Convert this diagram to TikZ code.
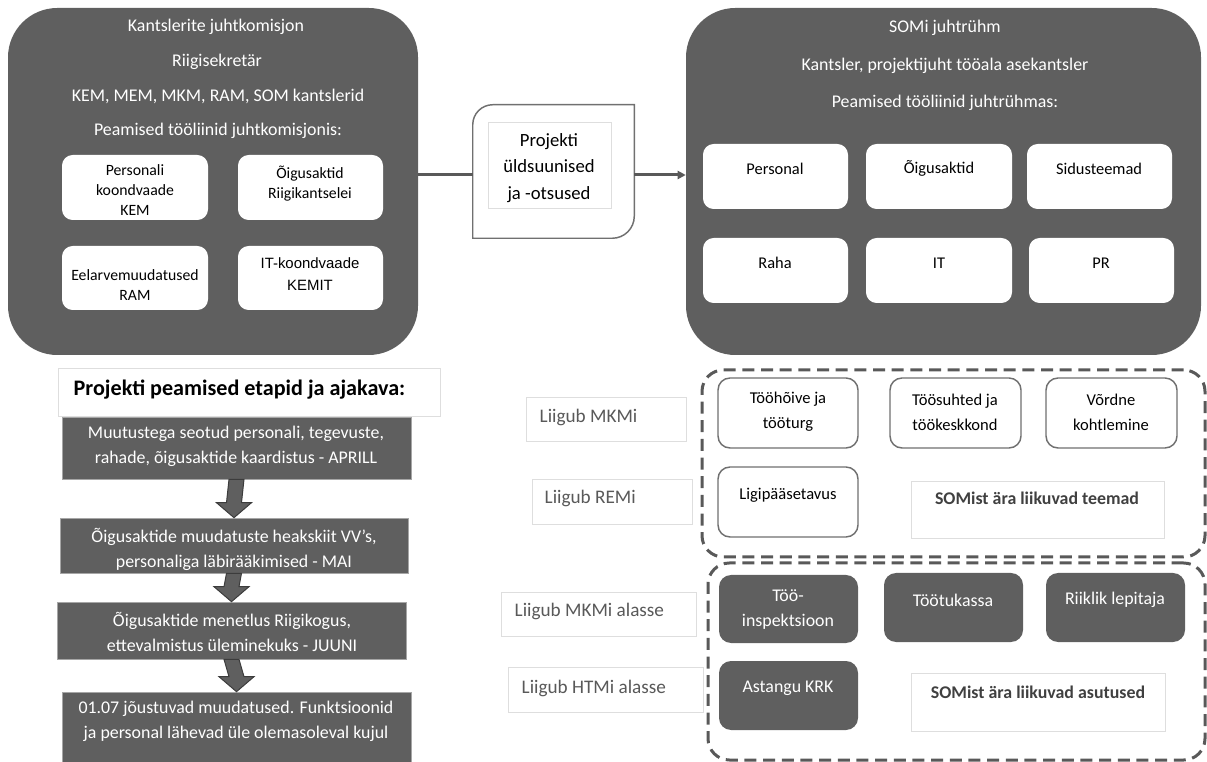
\documentclass[tikz,border=0pt]{standalone}
\usepackage{fontspec}
\setmainfont{Carlito}
\newfontfamily\arialfont{Liberation Sans}
\usetikzlibrary{fit,calc,arrows.meta}

\definecolor{boxgray}{RGB}{95,95,95}
\definecolor{linegray}{RGB}{89,89,89}
\definecolor{edgegray}{RGB}{222,222,222}
\definecolor{rimgray}{RGB}{112,112,112}
\definecolor{arrowedge}{RGB}{60,60,60}

\tikzset{
  bigbox/.style={fill=boxgray, rounded corners=37pt, inner sep=0pt},
  headtxt/.style={text=white, font=\fontsize{13.4}{16}\selectfont},
  wbox/.style={fill=white, rounded corners=8pt, inner sep=0pt},
  wtxt/.style={align=center, font=\fontsize{11.8}{15}\selectfont},
  rtxt/.style={align=center, font=\fontsize{12.3}{15}\selectfont},
  conn/.style={draw=linegray, line width=2.25pt},
  stepbox/.style={fill=boxgray, draw=gray!70, line width=0.5pt, inner sep=0pt},
  steptxt/.style={text=white, align=center, font=\fontsize{13.4}{18.75}\selectfont},
  downar/.style={fill=boxgray, draw=arrowedge, line width=0.75pt},
  dashbox/.style={draw=linegray, line width=2.25pt, dash pattern=on 9pt off 5pt,
    rounded corners=16pt, inner sep=0pt},
  obox/.style={fill=white, draw=rimgray, line width=1.1pt, rounded corners=9pt, inner sep=0pt},
  dbox/.style={fill=boxgray, rounded corners=9pt, inner sep=0pt},
  otxt/.style={align=center, font=\fontsize{12.4}{18.75}\selectfont},
  dtxt/.style={align=center, text=white, font=\fontsize{13.4}{18.75}\selectfont},
  lblbox/.style={fill=white, draw=edgegray, line width=0.6pt, inner sep=0pt},
  lbltxt/.style={anchor=west, text=linegray, font=\fontsize{14.4}{17}\selectfont},
  gonebox/.style={fill=white, draw=edgegray, line width=0.6pt, inner sep=0pt},
  gonetxt/.style={text=black!75, font=\fontsize{13.4}{16}\selectfont\bfseries}
}

\begin{document}
\begin{tikzpicture}[x=0.75pt, y=-0.75pt]
\useasboundingbox (0,0) rectangle (1207,762);

% kantslerite juhtkomisjon
\node[bigbox, fit={(8,8) (418,355)}] (kom) {};
\node[headtxt] (kom-h1) at (216,27) {Kantslerite juhtkomisjon};
\node[headtxt] (kom-h2) at (217,62) {Riigisekretär};
\node[headtxt] (kom-h3) at (218,96) {KEM, MEM, MKM, RAM, SOM kantslerid};
\node[headtxt] (kom-h4) at (218,131) {Peamised tööliinid juhtkomisjonis:};
\node[wbox, fit={(62,155) (208,220)}] (kpers) {};
\node[wtxt] (kpers-t) at (135,190) {Personali\\koondvaade\\KEM};
\node[wbox, fit={(238,155) (383,220)}] (koig) {};
\node[wtxt] (koig-t) at (310,184) {Õigusaktid\\Riigikantselei};
\node[wbox, fit={(62,246) (208,310)}] (keel) {};
\node[wtxt] (keel-t) at (135,285) {Eelarvemuudatused\\RAM};
\node[wbox, fit={(238,246) (383,310)}] (kit) {};
\node[wtxt, font=\arialfont\fontsize{11.2}{16.5}\selectfont] (kit-t) at (310,274) {IT-koondvaade\\KEMIT};

% projekti otsused
\node[fit={(473,105) (634,238)}, inner sep=0pt] (mid) {};
\draw[draw=rimgray, line width=1.1pt, fill=white] (mid.south west)
  -- ($(mid.north west)+(0,20)$) arc[start angle=180, end angle=270, radius=20]
  -- (mid.north east)
  -- ($(mid.south east)+(0,-22)$) arc[start angle=0, end angle=90, radius=22] -- cycle;
\node[fill=white, draw=edgegray, line width=0.6pt, inner sep=0pt, fit={(488,122) (611,208)}] (mid-b) {};
\node[align=center, font=\fontsize{14}{20}\selectfont] (mid-t) at (549,168) {Projekti\\üldsuunised\\ja -otsused};

% SOMi juhtruhm
\node[bigbox, fit={(686,8) (1201,355)}] (som) {};
\node[headtxt] (som-h1) at (945,28) {SOMi juhtrühm};
\node[headtxt] (som-h2) at (945,66) {Kantsler, projektijuht tööala asekantsler};
\node[headtxt] (som-h3) at (945,103) {Peamised tööliinid juhtrühmas:};
\node[wbox, fit={(703,144) (848,209)}] (rpers) {};
\node[rtxt] (rpers-t) at (775,169) {Personal};
\node[wbox, fit={(866,144) (1012,209)}] (roig) {};
\node[rtxt] (roig-t) at (939,168) {Õigusaktid};
\node[wbox, fit={(1027,144) (1172,209)}] (rsid) {};
\node[rtxt] (rsid-t) at (1099,169) {Sidusteemad};
\node[wbox, fit={(703,238) (848,303)}] (rraha) {};
\node[rtxt] (rraha-t) at (775,263) {Raha};
\node[wbox, fit={(866,238) (1012,303)}] (rit) {};
\node[rtxt] (rit-t) at (939,263) {IT};
\node[wbox, fit={(1029,238) (1174,303)}] (rpr) {};
\node[rtxt] (rpr-t) at (1101,263) {PR};

\coordinate (lnk) at (550,175);
\draw[conn] (kom.east |- lnk) -- (mid.west |- lnk);
\draw[conn, -{Triangle[length=6pt, width=6pt]}] (mid.east |- lnk) -- (som.west |- lnk);

% etapid
\node[fill=white, draw=edgegray, line width=0.6pt, inner sep=0pt, fit={(58,368) (440,416)}] (ttl) {};
\node[anchor=west, font=\fontsize{16.6}{19}\selectfont\bfseries] (ttl-t) at (69,390) {Projekti peamised etapid ja ajakava:};
\node[stepbox, fit={(62,417) (411,479)}] (s1) {};
\node[steptxt] (s1-t) at (236,446) {Muutustega seotud personali, tegevuste,\\rahade, õigusaktide kaardistus - APRILL};
\node[stepbox, fit={(60,518) (408,573)}] (s2) {};
\node[steptxt] (s2-t) at (234,549) {Õigusaktide muudatuste heakskiit VV’s,\\personaliga läbirääkimised - MAI};
\node[stepbox, fit={(57,602) (406,659)}] (s3) {};
\node[steptxt] (s3-t) at (232,632) {Õigusaktide menetlus Riigikogus,\\ettevalmistus üleminekuks - JUUNI};
\node[stepbox, fit={(62,692) (411,762)}] (s4) {};
\node[steptxt] (s4-t) at (236,721) {01.07 jõustuvad muudatused. Funktsioonid\\ja personal lähevad üle olemasoleval kujul};
\foreach \a/\b in {s1/s2, s2/s3, s3/s4}
  \filldraw[downar] ($(\a.south)+(-7.5,0)$) -- ($(\b.north)+(-7.5,-15)$) -- ++(-10,0)
    -- (\b.north) -- ($(\b.north)+(17.5,-15)$) -- ++(-10,0) -- ($(\a.south)+(7.5,0)$) -- cycle;

% SOMist ara liikuvad teemad
\node[lblbox, fit={(526,397) (686,441)}] (l1) {};
\node[lbltxt] (l1-t) at (535,417) {Liigub MKMi};
\node[lblbox, fit={(532,479) (692,524)}] (l2) {};
\node[lbltxt] (l2-t) at (540,498) {Liigub REMi};
\node[dashbox, fit={(702,370) (1205,557)}] (teemad) {};
\node[obox, fit={(718,378) (858,448)}] (t1) {};
\node[otxt] (t1-t) at (788,412) {Tööhõive ja\\tööturg};
\node[obox, fit={(890,378) (1021,448)}] (t2) {};
\node[otxt] (t2-t) at (955,412) {Töösuhted ja\\töökeskkond};
\node[obox, fit={(1046,378) (1177,448)}] (t3) {};
\node[otxt] (t3-t) at (1111,412) {Võrdne\\kohtlemine};
\node[obox, fit={(718,467) (858,537)}] (t4) {};
\node[otxt] (t4-t) at (788,495) {Ligipääsetavus};
\node[gonebox, fit={(911,481) (1164,538)}] (g1) {};
\node[gonetxt] (g1-t) at (1037,498) {SOMist ära liikuvad teemad};

% SOMist ara liikuvad asutused
\node[lblbox, fit={(501,592) (696,636)}] (l3) {};
\node[lbltxt] (l3-t) at (510,611) {Liigub MKMi alasse};
\node[lblbox, fit={(508,667) (703,712)}] (l4) {};
\node[lbltxt] (l4-t) at (517,688) {Liigub HTMi alasse};
\node[dashbox, fit={(708,563) (1205,760)}] (asutused) {};
\node[dbox, fit={(719,575) (858,643)}] (d1) {};
\node[dtxt] (d1-t) at (788,610) {Töö-\\inspektsioon};
\node[dbox, fit={(884,573) (1023,642)}] (d2) {};
\node[dtxt] (d2-t) at (953,600) {Töötukassa};
\node[dbox, fit={(1046,573) (1185,642)}] (d3) {};
\node[dtxt] (d3-t) at (1115,600) {Riiklik lepitaja};
\node[dbox, fit={(719,661) (858,730)}] (d4) {};
\node[dtxt] (d4-t) at (788,688) {Astangu KRK};
\node[gonebox, fit={(911,673) (1165,731)}] (g2) {};
\node[gonetxt] (g2-t) at (1038,692) {SOMist ära liikuvad asutused};
\end{tikzpicture}
\end{document}
